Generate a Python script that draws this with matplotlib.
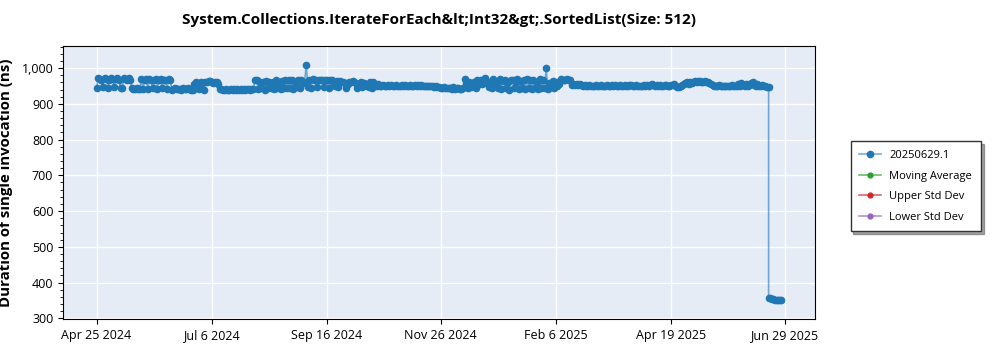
import matplotlib
import matplotlib.pyplot as plt
import matplotlib.ticker as mticker
import pandas as pd

matplotlib.use("Agg")

# benchmark series: one sample per day starting at Apr 25 2024
series_start = "2024-04-25"
series_values = [
    945, 972, 970, 968, 948, 972, 970, 944, 968, 972,
    970, 946, 970, 972, 968, 945, 944, 972, 970, 968,
    972, 968, 945, 943, 942, 944, 941, 943, 970, 941,
    968, 970, 942, 970, 968, 944, 966, 970, 942, 968,
    970, 944, 966, 968, 942, 970, 968, 940, 942, 945,
    943, 941, 942, 940, 944, 942, 941, 945, 943, 940,
    940, 955, 960, 958, 942, 962, 958, 940, 960, 962,
    963, 965, 960, 958, 962, 960, 955, 941, 942, 940,
    940, 941, 938, 940, 942, 940, 941, 939, 942, 940,
    941, 940, 942, 940, 941, 942, 940, 941, 943, 966,
    966, 942, 960, 944, 962, 940, 964, 945, 962, 945,
    960, 942, 966, 944, 962, 943, 964, 945, 966, 944,
    966, 944, 968, 942, 960, 948, 966, 944, 968, 962,
    958, 1010, 948, 968, 944, 970, 966, 968, 946, 968,
    968, 966, 946, 968, 966, 945, 967, 968, 962, 950,
    965, 946, 963, 960, 962, 958, 945, 955, 962, 960,
    963, 960, 958, 945, 955, 962, 948, 958, 952, 950,
    948, 962, 945, 960, 952, 950, 955, 951, 950, 952,
    950, 951, 952, 950, 953, 951, 950, 952, 951, 950,
    951, 953, 950, 952, 950, 951, 952, 950, 951, 953,
    951, 953, 950, 952, 950, 951, 949, 950, 951, 950,
    950, 948, 949, 947, 946, 945, 944, 946, 945, 944,
    944, 945, 943, 946, 942, 944, 945, 943, 942, 944,
    970, 958, 945, 960, 947, 958, 962, 945, 966, 955,
    968, 955, 966, 972, 958, 946, 962, 945, 970, 958,
    962, 945, 970, 942, 965, 968, 944, 962, 940, 966,
    968, 944, 962, 970, 941, 965, 945, 968, 942, 970,
    945, 966, 942, 968, 944, 962, 941, 970, 945, 966,
    945, 1000, 942, 958, 948, 965, 945, 960, 950, 955,
    970, 968, 966, 968, 970, 966, 968, 952, 956, 954,
    956, 954, 955, 952, 951, 953, 950, 951, 952, 950,
    951, 950, 952, 951, 950, 952, 951, 950, 951, 952,
    950, 951, 953, 950, 952, 951, 950, 952, 951, 950,
    952, 951, 950, 952, 953, 950, 951, 952, 950, 951,
    950, 951, 953, 950, 952, 951, 953, 955, 952, 950,
    953, 951, 952, 950, 951, 953, 952, 950, 951, 953,
    953, 956, 950, 948, 946, 950, 952, 955, 958, 960,
    955, 960, 958, 962, 963, 960, 963, 965, 962, 960,
    965, 962, 960, 958, 955, 952, 950, 951, 950, 952,
    949, 950, 951, 950, 949, 951, 950, 952, 949, 950,
    951, 955, 950, 958, 952, 950, 956, 950, 953, 958,
    960, 952, 950, 956, 951, 950, 953, 950, 949, 948,
    948,
]
# last run after the drop
tail_dates = ["2025-06-19", "2025-06-20", "2025-06-21", "2025-06-22", "2025-06-23",
              "2025-06-24", "2025-06-25", "2025-06-26", "2025-06-27"]
tail_values = [357, 356, 354, 353, 351, 352, 350, 351, 350]

tick_dates = ["2024-04-25", "2024-07-06", "2024-09-16", "2024-11-26",
              "2025-02-06", "2025-04-19", "2025-06-29"]
tick_labels = ["Apr 25 2024", "Jul 6 2024", "Sep 16 2024", "Nov 26 2024",
               "Feb 6 2025", "Apr 19 2025", "Jun 29 2025"]

dates = list(pd.date_range(series_start, periods=len(series_values), freq="D"))
dates += list(pd.to_datetime(tail_dates))
values = series_values + tail_values

plt.rcParams["font.family"] = ["Open Sans", "DejaVu Sans"]

fig = plt.figure(figsize=(10, 3.5), dpi=100)
ax = fig.add_axes([0.063, 0.0886, 0.752, 0.78])
ax.set_facecolor("#E5ECF6")

blue = "#1f77b4"
ax.plot(dates, values, color=(0.12, 0.47, 0.71, 0.6), linewidth=1.2,
        marker="o", markersize=4.5, markerfacecolor=blue, markeredgecolor=blue,
        label="20250629.1", zorder=3)
ax.plot([], [], color=(0.17, 0.63, 0.17, 0.7), linewidth=1.2, marker="o",
        markersize=3.5, markerfacecolor="#2ca02c", markeredgecolor="#2ca02c",
        label="Moving Average")
ax.plot([], [], color=(0.84, 0.15, 0.16, 0.7), linewidth=1.2, marker="o",
        markersize=3.5, markerfacecolor="#d62728", markeredgecolor="#d62728",
        label="Upper Std Dev")
ax.plot([], [], color=(0.58, 0.40, 0.74, 0.7), linewidth=1.2, marker="o",
        markersize=3.5, markerfacecolor="#9467bd", markeredgecolor="#9467bd",
        label="Lower Std Dev")

ax.set_xlim(pd.Timestamp("2024-04-04"), pd.Timestamp("2025-07-18"))
ax.set_ylim(298, 1062)
ax.set_xticks(pd.to_datetime(tick_dates))
ax.set_xticklabels(tick_labels)
ax.yaxis.set_major_locator(mticker.MultipleLocator(100))
ax.yaxis.set_minor_locator(mticker.MultipleLocator(20))
ax.yaxis.set_major_formatter(mticker.StrMethodFormatter("{x:,.0f}"))
ax.tick_params(labelsize=9)
ax.grid(True, color="white", linewidth=1.0)
ax.set_axisbelow(True)

ax.set_ylabel("Duration of single invocation (ns)", fontsize=10.8,
              fontweight="bold", labelpad=6)
ax.set_title("System.Collections.IterateForEach&lt;Int32&gt;.SortedList(Size: 512)",
             fontsize=11, fontweight="bold", pad=16)

leg = fig.legend(loc="upper left", bbox_to_anchor=(0.845, 0.612), fontsize=8,
                 shadow=True, fancybox=False, edgecolor="#333333",
                 borderpad=0.8, labelspacing=0.85, handlelength=1.9)
leg.get_frame().set_linewidth(1.0)

fig.savefig("out.png", dpi=100)
